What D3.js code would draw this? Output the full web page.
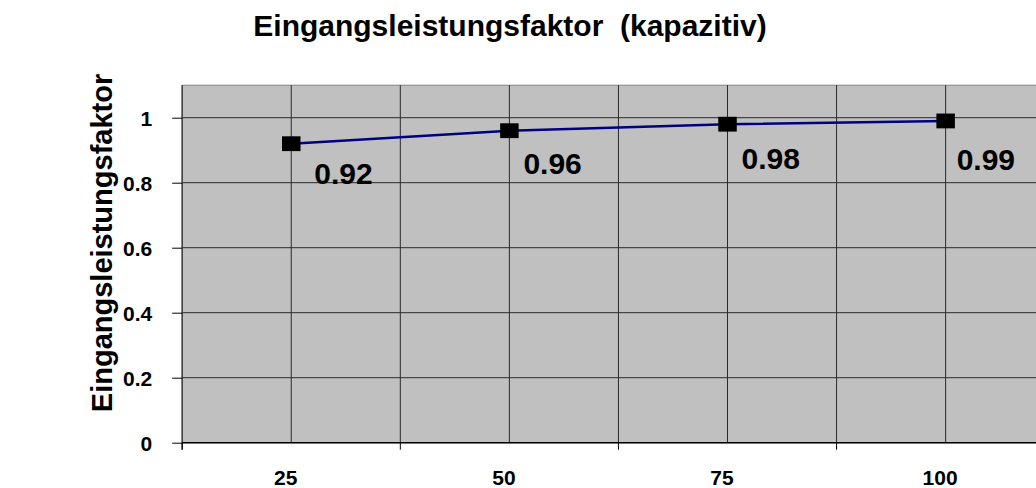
<!DOCTYPE html>
<html>
<head>
<meta charset="utf-8">
<script src="https://cdn.jsdelivr.net/npm/d3@7/dist/d3.min.js"></script>
<style>
  html, body { margin: 0; padding: 0; background: #ffffff; }
  svg { display: block; }
  text { font-family: "Liberation Sans", Arial, sans-serif; font-weight: bold; fill: #000; }
</style>
</head>
<body>
<svg id="chart" width="1036" height="488"></svg>
<script>
// Load levels (%) and the measured input power factor
const categories = ["25", "50", "75", "100"];
const powerFactor = [0.92, 0.96, 0.98, 0.99];
const yTicks = [0, 0.2, 0.4, 0.6, 0.8, 1];
const yTickLabels = ["0", "0.2", "0.4", "0.6", "0.8", "1"];

const titleText = "Eingangsleistungsfaktor  (kapazitiv)";
const yTitleText = "Eingangsleistungsfaktor";

// Layout
const W = 1036, H = 488;
const plot = { left: 182.2, right: 1054.7, top: 85.2, bottom: 442.7 };

// Nudges for the value labels, relative to each marker (dx to left edge, dy to baseline)
const labelNudge = [[23, 40], [14, 43.5], [14, 44.5], [11, 49]];

const svg = d3.select("#chart");

const x = d3.scaleBand().domain(categories).range([plot.left, plot.right]).padding(0);
const y = d3.scaleLinear().domain([0, 1.1]).range([plot.bottom, plot.top]);
const cx = d => x(d) + x.bandwidth() / 2;

// Plot background
svg.append("rect")
  .attr("x", plot.left).attr("y", plot.top)
  .attr("width", plot.right - plot.left).attr("height", plot.bottom - plot.top)
  .attr("fill", "#c0c0c0")
  .attr("stroke", "#808080").attr("stroke-width", 1);

// Horizontal gridlines
svg.append("g")
  .selectAll("line")
  .data(yTicks.filter(v => v > 0))
  .join("line")
  .attr("x1", plot.left).attr("x2", plot.right)
  .attr("y1", d => y(d)).attr("y2", d => y(d))
  .attr("stroke", "#2a2a2a").attr("stroke-width", 1);

// Vertical gridlines at category centres and category boundaries
const vLines = [];
categories.forEach((c, i) => {
  if (i > 0) vLines.push(x(c));
  vLines.push(cx(c));
});
svg.append("g")
  .selectAll("line")
  .data(vLines)
  .join("line")
  .attr("x1", d => d).attr("x2", d => d)
  .attr("y1", plot.top).attr("y2", plot.bottom)
  .attr("stroke", "#2a2a2a").attr("stroke-width", 1);

// Y axis
const yAxis = d3.axisLeft(y)
  .tickValues(yTicks)
  .tickFormat((d, i) => yTickLabels[i])
  .tickSize(10)
  .tickPadding(20);
const gy = svg.append("g")
  .attr("transform", `translate(${plot.left},0)`)
  .call(yAxis);
gy.select(".domain").attr("stroke", "#404040").attr("stroke-width", 1.5)
  .attr("d", `M0,${plot.top}V${plot.bottom + 7}`);
gy.selectAll(".tick line").attr("stroke", "#000").attr("stroke-width", 1);
gy.selectAll(".tick text")
  .style("font-size", "21px").style("font-weight", "bold")
  .attr("fill", "#000").attr("dy", "0.36em");

// X axis: ticks on category boundaries, labels at centres
const gx = svg.append("g")
  .attr("transform", `translate(0,${plot.bottom})`);
gx.append("line")
  .attr("x1", plot.left).attr("x2", plot.right)
  .attr("y1", 0).attr("y2", 0)
  .attr("stroke", "#000").attr("stroke-width", 1.5);
const bounds = categories.map(c => x(c)).concat([plot.right]);
gx.selectAll("line.tick")
  .data(bounds)
  .join("line")
  .attr("class", "tick")
  .attr("x1", d => d).attr("x2", d => d)
  .attr("y1", 0).attr("y2", 7)
  .attr("stroke", "#000").attr("stroke-width", 1);
gx.selectAll("text")
  .data(categories)
  .join("text")
  .attr("x", d => cx(d) - 5.5)
  .attr("y", 42)
  .attr("text-anchor", "middle")
  .style("font-size", "21px")
  .text(d => d);

// Series line
const line = d3.line()
  .x((d, i) => cx(categories[i]))
  .y(d => y(d));
svg.append("path")
  .datum(powerFactor)
  .attr("d", line)
  .attr("fill", "none")
  .attr("stroke", "#000080")
  .attr("stroke-width", 2.5);

// Markers
const mw = 18.5, mh = 14.8;
svg.append("g")
  .selectAll("rect")
  .data(powerFactor)
  .join("rect")
  .attr("x", (d, i) => cx(categories[i]) - mw / 2)
  .attr("y", d => y(d) - mh / 2)
  .attr("width", mw).attr("height", mh)
  .attr("fill", "#000");

// Value labels
svg.append("g")
  .selectAll("text")
  .data(powerFactor)
  .join("text")
  .attr("x", (d, i) => cx(categories[i]) + labelNudge[i][0])
  .attr("y", (d, i) => y(d) + labelNudge[i][1])
  .style("font-size", "30px")
  .text(d => d.toFixed(2));

// Chart title
svg.append("text")
  .attr("x", 510).attr("y", 36)
  .attr("text-anchor", "middle")
  .style("font-size", "30px")
  .style("white-space", "pre")
  .text(titleText);

// Y axis title
svg.append("text")
  .attr("transform", "translate(112,243) rotate(-90)")
  .attr("text-anchor", "middle")
  .style("font-size", "29px")
  .text(yTitleText);
</script>
</body>
</html>
